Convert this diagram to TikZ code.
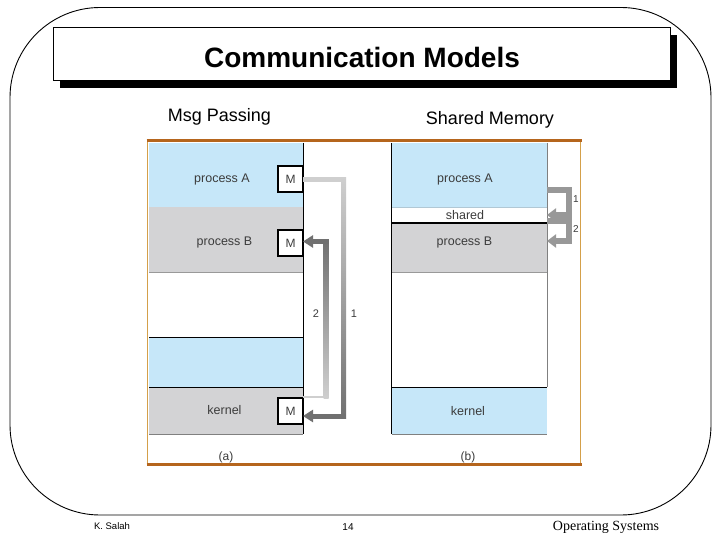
\documentclass[tikz,border=0pt]{standalone}
\usepackage{fontspec}
\setmainfont{Liberation Sans}
\newfontfamily\serifT{Liberation Serif}
\usetikzlibrary{arrows.meta}
\definecolor{pblue}{HTML}{C6E7F9}
\definecolor{pgray}{HTML}{D3D3D5}
\definecolor{framec}{HTML}{B5651D}
\definecolor{framethin}{HTML}{D4A04A}
\definecolor{txtc}{HTML}{3C3C3C}
\definecolor{lgc}{HTML}{CFCFCF}
\definecolor{dgc}{HTML}{707070}
\definecolor{rgc}{HTML}{989898}
\tikzset{
  reg/.style={anchor=north west, inner sep=0pt, outer sep=0pt, draw=none},
  lbl/.style={font=\fontsize{12.5}{14}\selectfont, text=txtc},
  mbox/.style={draw=black, line width=1.1pt, fill=white, minimum width=25pt, minimum height=26pt, inner sep=0pt, outer sep=0pt, font=\fontsize{12}{13}\selectfont, text=txtc},
  conn/.style={line width=5pt, line cap=butt},
  rconn/.style={line width=5.5pt, rgc, line cap=butt, -{Triangle[width=13pt,length=9pt]}},
  numlbl/.style={font=\fontsize{11}{12}\selectfont, text=txtc},
}
\begin{document}
\begin{tikzpicture}[x=1pt,y=-1pt]
\useasboundingbox (0,0) rectangle (720,540);
\fill[white] (0,0) rectangle (720,540);
% outer rounded border
\draw[line width=0.9pt, rounded corners=90pt] (10,7.5) rectangle (711,515);
% title
\fill[black] (60,35) rectangle (677,88);
\node[draw=black, line width=0.9pt, fill=white, anchor=north west, minimum width=617pt, minimum height=53pt, inner sep=0pt] (title) at (53,27) {};
\node[font=\bfseries\fontsize{28}{32}\selectfont] (titletxt) at (362,57) {Communication Models};
% headings
\node[font=\fontsize{18}{21}\selectfont] (hmsg) at (219.5,117) {Msg Passing};
\node[font=\fontsize{18}{21}\selectfont] (hshm) at (490,120) {Shared Memory};

% ---- left column (a)
\node[reg, fill=pblue, minimum width=154pt, minimum height=64pt] (aA) at (149,143) {};
\node[reg, fill=pgray, minimum width=154pt, minimum height=65pt] (aB) at (149,207) {};
\node[reg, fill=pblue, minimum width=154pt, minimum height=50pt] (aU) at (149,337) {};
\node[reg, fill=pgray, minimum width=154pt, minimum height=47pt] (aK) at (149,387) {};
\draw[gray!80, line width=0.6pt] (aB.south west) -- (aB.south east);
\draw[black, line width=0.8pt] (aU.north west) -- (aU.north east);
\draw[black, line width=0.8pt] (aK.north west) -- (aK.north east);
\draw[gray, line width=0.6pt] (aK.south west) -- (aK.south east);
\draw[black, line width=0.9pt] (aA.north east) -- (aK.south east);
\node[lbl] (laA) at (222,179) {process A};
\node[lbl] (laB) at (224.5,242) {process B};
\node[lbl] (laK) at (224.5,410) {kernel};
\node[mbox] (mA) at (290.5,179) {M};
\node[mbox] (mB) at (290.5,243) {M};
\node[mbox] (mK) at (290.5,411) {M};

% arrow 1 (A -> kernel)
\coordinate (a1t) at (343.5,180);
\coordinate (a1b) at (343.5,416);
\draw[conn, lgc] (mA.east |- a1t) -- ([xshift=2.5pt]a1t);
\shade[top color=lgc, bottom color=dgc] ([xshift=-2.5pt,yshift=2.5pt]a1t) rectangle ([xshift=2.5pt,yshift=-2.5pt]a1b);
\draw[conn, dgc, -{Triangle[width=12pt,length=10pt]}] ([xshift=2.5pt]a1b) -- (mK.east |- a1b);
% arrow 2 (kernel -> B)
\coordinate (a2b) at (326,397);
\coordinate (a2t) at (326,241.5);
\draw[line width=2.5pt, lgc, line cap=butt] (mK.east |- a2b) -- ([xshift=2.5pt]a2b);
\shade[top color=dgc, bottom color=lgc] ([xshift=-2.5pt,yshift=2.5pt]a2t) rectangle ([xshift=2.5pt,yshift=-1.25pt]a2b);
\draw[conn, dgc, -{Triangle[width=12pt,length=10pt]}] ([xshift=2.5pt]a2t) -- (mB.east |- a2t);
\node[numlbl] (n2a) at (316,314) {2};
\node[numlbl] (n1a) at (354,314) {1};

% ---- right column (b)
\node[reg, fill=pblue, minimum width=155.5pt, minimum height=64pt] (bA) at (391.5,143) {};
\node[reg, fill=white, minimum width=155.5pt, minimum height=16pt] (bS) at (391.5,207) {};
\node[reg, fill=pgray, minimum width=155.5pt, minimum height=49pt] (bB) at (391.5,223) {};
\node[reg, fill=pblue, minimum width=155.5pt, minimum height=47pt] (bK) at (391.5,387) {};
\draw[pblue!70!gray, line width=0.5pt] (bA.south west) -- (bA.south east);
\draw[black, line width=1.1pt] (bB.north west) -- (bB.north east);
\draw[gray!80, line width=0.6pt] (bB.south west) -- (bB.south east);
\draw[black, line width=0.8pt] (bK.north west) -- (bK.north east);
\draw[gray, line width=0.6pt] (bK.south west) -- (bK.south east);
\draw[black, line width=0.9pt] (bA.north west) -- (bK.south west);
\draw[gray, line width=0.8pt] (bA.north east) -- (bK.north east);
\node[lbl] (lbA) at (465,179) {process A};
\node[lbl] (lbS) at (465,215) {shared};
\node[lbl] (lbB) at (464.5,242) {process B};
\node[lbl] (lbK) at (468,411) {kernel};
% arrows 1 and 2
\coordinate (r1c) at (569,200);
\coordinate (r2c) at (569,231);
\draw[rconn] (bA.east |- 0,190) -| (r1c) |- (bS.east);
\draw[rconn] (bS.east |- 0,221) -| (r2c) |- (bB.east |- 0,241);
\node[numlbl, font=\fontsize{10}{12}\selectfont] (n1b) at (576,199) {1};
\node[numlbl, font=\fontsize{10}{12}\selectfont] (n2b) at (576,229) {2};

% ---- frame
\draw[framethin, line width=1.2pt] (147.5,141) -- (147.5,464);
\draw[framethin, line width=1.2pt] (580.5,141) -- (580.5,464);
\draw[framec, line width=3pt] (146.5,141) -- (581.5,141);
\draw[framec, line width=3pt] (146.5,464) -- (581.5,464);
\node[font=\fontsize{12}{14}\selectfont, text=txtc] (capa) at (226,457) {(a)};
\node[font=\fontsize{12}{14}\selectfont, text=txtc] (capb) at (468,457) {(b)};

% ---- footer
\node[font=\fontsize{9.5}{11}\selectfont] (fk) at (112,526) {K. Salah};
\node[font=\fontsize{10}{11}\selectfont] (fn) at (348,527) {14};
\node[font=\serifT\fontsize{14}{16}\selectfont] (fos) at (606,527) {Operating Systems};
\end{tikzpicture}
\end{document}
